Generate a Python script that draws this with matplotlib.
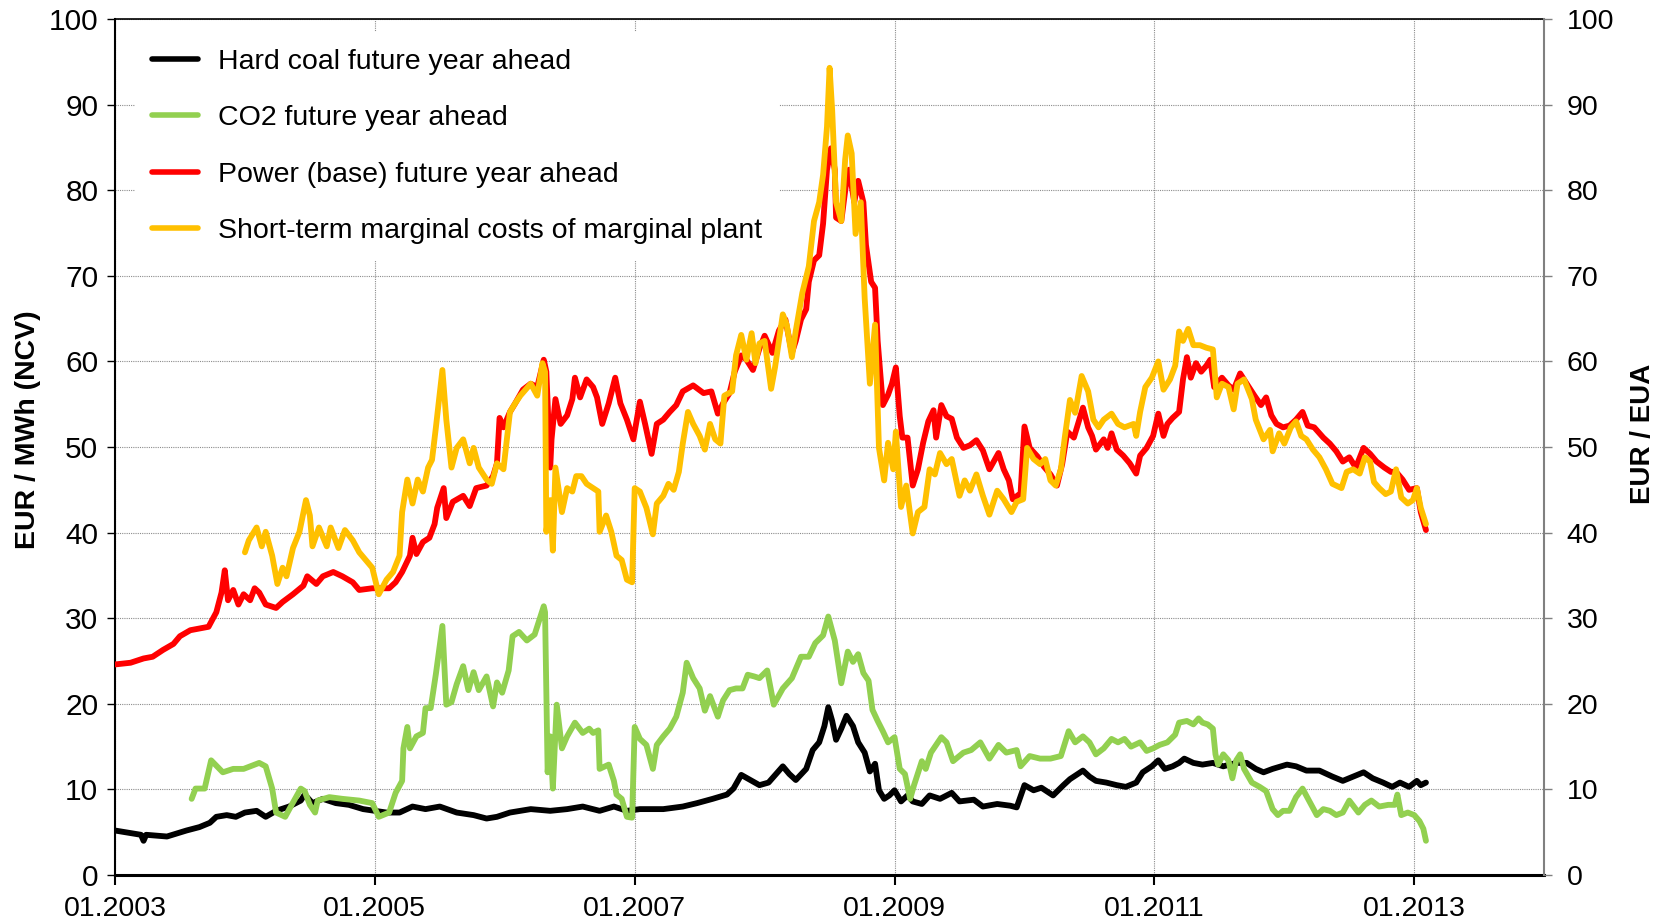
import matplotlib.pyplot as plt
from matplotlib.ticker import MultipleLocator

plt.rcParams['font.family'] = ['Liberation Sans', 'DejaVu Sans']

# time axis in decimal years
coal_t = [2003.00, 2003.12, 2003.20, 2003.22, 2003.24, 2003.40, 2003.55, 2003.65, 2003.73, 2003.78,
          2003.86, 2003.93, 2004.00, 2004.09, 2004.16, 2004.24, 2004.34, 2004.43, 2004.46, 2004.52,
          2004.60, 2004.70, 2004.80, 2004.91, 2005.00, 2005.09, 2005.19, 2005.29, 2005.39, 2005.50,
          2005.63, 2005.76, 2005.86, 2005.94, 2006.04, 2006.20, 2006.35, 2006.48, 2006.60, 2006.73,
          2006.84, 2006.94, 2007.04, 2007.22, 2007.37, 2007.48, 2007.60, 2007.71, 2007.76, 2007.82,
          2007.89, 2007.96, 2008.03, 2008.14, 2008.19, 2008.24, 2008.32, 2008.37, 2008.42, 2008.46,
          2008.49, 2008.52, 2008.55, 2008.59, 2008.63, 2008.68, 2008.72, 2008.77, 2008.81, 2008.85,
          2008.88, 2008.92, 2008.96, 2009.00, 2009.05, 2009.10, 2009.14, 2009.21, 2009.27, 2009.35,
          2009.44, 2009.50, 2009.61, 2009.68, 2009.79, 2009.89, 2009.94, 2010.00, 2010.07, 2010.13,
          2010.22, 2010.30, 2010.35, 2010.45, 2010.50, 2010.55, 2010.63, 2010.71, 2010.78, 2010.86,
          2010.91, 2010.98, 2011.03, 2011.08, 2011.14, 2011.19, 2011.23, 2011.30, 2011.37, 2011.45,
          2011.53, 2011.63, 2011.71, 2011.78, 2011.84, 2011.91, 2012.02, 2012.09, 2012.17, 2012.27,
          2012.37, 2012.45, 2012.53, 2012.61, 2012.68, 2012.76, 2012.83, 2012.89, 2012.96, 2013.02,
          2013.05, 2013.09]
coal_v = [5.2, 4.9, 4.7, 4.0, 4.7, 4.5, 5.2, 5.6, 6.1, 6.8,
          7.0, 6.8, 7.3, 7.5, 6.8, 7.5, 8.0, 8.7, 9.4, 8.4,
          8.9, 8.4, 8.2, 7.7, 7.5, 7.3, 7.3, 8.0, 7.7, 8.0,
          7.3, 7.0, 6.6, 6.8, 7.3, 7.7, 7.5, 7.7, 8.0, 7.5,
          8.0, 7.5, 7.7, 7.7, 8.0, 8.4, 8.9, 9.4, 10.1, 11.7,
          11.1, 10.5, 10.8, 12.7, 11.8, 11.1, 12.4, 14.6, 15.5, 17.4,
          19.6, 18.0, 15.8, 17.1, 18.6, 17.4, 15.5, 14.3, 12.1, 13.0,
          9.9, 8.9, 9.3, 9.9, 8.6, 9.3, 8.6, 8.3, 9.3, 8.9,
          9.6, 8.6, 8.8, 8.0, 8.3, 8.1, 7.9, 10.5, 9.9, 10.2,
          9.3, 10.5, 11.2, 12.2, 11.5, 11.0, 10.8, 10.5, 10.3, 10.8,
          12.0, 12.7, 13.4, 12.4, 12.7, 13.1, 13.6, 13.1, 12.9, 13.1,
          12.7, 13.1, 13.1, 12.4, 12.0, 12.4, 12.9, 12.7, 12.2, 12.2,
          11.5, 11.0, 11.5, 12.0, 11.3, 10.8, 10.3, 10.8, 10.3, 11.0,
          10.5, 10.8]

co2_t = [2003.59, 2003.62, 2003.69, 2003.74, 2003.83, 2003.91, 2003.99, 2004.11, 2004.16, 2004.21,
         2004.24, 2004.31, 2004.36, 2004.43, 2004.46, 2004.50, 2004.54, 2004.56, 2004.65, 2004.75,
         2004.88, 2004.98, 2005.03, 2005.11, 2005.16, 2005.21, 2005.22, 2005.25, 2005.27, 2005.32,
         2005.37, 2005.39, 2005.43, 2005.47, 2005.52, 2005.55, 2005.59, 2005.63, 2005.68, 2005.72,
         2005.76, 2005.80, 2005.86, 2005.91, 2005.94, 2005.98, 2006.03, 2006.06, 2006.11, 2006.17,
         2006.23, 2006.27, 2006.30, 2006.31, 2006.33, 2006.35, 2006.37, 2006.40, 2006.44, 2006.48,
         2006.54, 2006.60, 2006.65, 2006.68, 2006.72, 2006.73, 2006.80, 2006.84, 2006.86, 2006.90,
         2006.94, 2006.98, 2007.00, 2007.04, 2007.09, 2007.14, 2007.17, 2007.22, 2007.27, 2007.32,
         2007.37, 2007.40, 2007.45, 2007.50, 2007.54, 2007.58, 2007.64, 2007.68, 2007.73, 2007.78,
         2007.83, 2007.87, 2007.92, 2007.96, 2008.02, 2008.07, 2008.14, 2008.21, 2008.28, 2008.34,
         2008.39, 2008.45, 2008.49, 2008.54, 2008.59, 2008.64, 2008.68, 2008.72, 2008.76, 2008.80,
         2008.83, 2008.87, 2008.91, 2008.95, 2009.00, 2009.04, 2009.08, 2009.12, 2009.15, 2009.21,
         2009.24, 2009.28, 2009.36, 2009.40, 2009.45, 2009.53, 2009.59, 2009.66, 2009.73, 2009.80,
         2009.86, 2009.94, 2009.97, 2010.04, 2010.12, 2010.20, 2010.28, 2010.34, 2010.39, 2010.45,
         2010.50, 2010.55, 2010.61, 2010.67, 2010.72, 2010.77, 2010.82, 2010.89, 2010.94, 2010.99,
         2011.04, 2011.10, 2011.16, 2011.19, 2011.25, 2011.30, 2011.34, 2011.37, 2011.41, 2011.45,
         2011.47, 2011.49, 2011.53, 2011.57, 2011.60, 2011.63, 2011.66, 2011.69, 2011.75, 2011.81,
         2011.86, 2011.91, 2011.95, 2011.99, 2012.04, 2012.09, 2012.14, 2012.19, 2012.25, 2012.30,
         2012.35, 2012.40, 2012.45, 2012.50, 2012.57, 2012.62, 2012.67, 2012.73, 2012.80, 2012.85,
         2012.87, 2012.90, 2012.95, 2013.00, 2013.04, 2013.07, 2013.09]
co2_v = [8.9, 10.1, 10.1, 13.4, 12.0, 12.4, 12.4, 13.1, 12.7, 10.1,
         7.3, 6.8, 8.2, 10.1, 9.8, 8.2, 7.3, 8.7, 9.1, 8.9,
         8.7, 8.4, 6.8, 7.3, 9.6, 11.0, 14.8, 17.3, 14.8, 16.2,
         16.6, 19.5, 19.5, 23.5, 29.1, 19.9, 20.2, 22.3, 24.4, 21.6,
         23.7, 21.6, 23.2, 19.7, 22.5, 21.3, 23.9, 27.9, 28.4, 27.4,
         28.1, 30.0, 31.4, 30.7, 12.0, 16.2, 10.1, 19.9, 14.8, 16.2,
         17.8, 16.6, 17.1, 16.6, 16.9, 12.4, 12.9, 11.0, 9.4, 8.9,
         6.8, 6.7, 17.3, 15.9, 15.2, 12.4, 15.2, 16.2, 17.1, 18.5,
         21.3, 24.8, 23.0, 21.8, 19.2, 20.9, 18.5, 20.4, 21.6, 21.8,
         21.8, 23.4, 23.2, 23.0, 23.9, 19.9, 21.8, 23.0, 25.5, 25.5,
         27.1, 28.0, 30.2, 27.4, 22.4, 26.1, 24.9, 25.8, 23.6, 22.7,
         19.3, 18.0, 16.8, 15.5, 16.1, 12.4, 11.8, 8.9, 10.5, 13.3,
         12.4, 14.3, 16.1, 15.5, 13.3, 14.3, 14.6, 15.5, 13.6, 15.2,
         14.3, 14.6, 12.7, 13.9, 13.6, 13.6, 13.9, 16.8, 15.5, 16.2,
         15.5, 14.1, 14.8, 15.9, 15.5, 15.9, 15.0, 15.5, 14.5, 14.8,
         15.2, 15.5, 16.4, 17.8, 18.0, 17.6, 18.3, 17.8, 17.6, 17.1,
         14.1, 12.9, 14.1, 13.4, 11.3, 13.4, 14.1, 12.4, 10.8, 10.3,
         9.8, 7.7, 7.0, 7.5, 7.5, 9.1, 10.1, 8.7, 7.0, 7.7,
         7.5, 7.0, 7.3, 8.7, 7.3, 8.2, 8.7, 8.0, 8.2, 8.2,
         9.4, 7.0, 7.3, 7.0, 6.3, 5.4, 4.0]

power_t = [2003.00, 2003.12, 2003.22, 2003.29, 2003.37, 2003.45, 2003.50, 2003.58, 2003.65, 2003.72,
           2003.78, 2003.82, 2003.845, 2003.87, 2003.91, 2003.95, 2003.99, 2004.04, 2004.075, 2004.11,
           2004.16, 2004.24, 2004.29, 2004.37, 2004.45, 2004.48, 2004.55, 2004.60, 2004.68, 2004.75,
           2004.83, 2004.88, 2004.98, 2005.06, 2005.11, 2005.16, 2005.21, 2005.27, 2005.29, 2005.32,
           2005.37, 2005.42, 2005.46, 2005.48, 2005.53, 2005.55, 2005.60, 2005.68, 2005.73, 2005.78,
           2005.86, 2005.91, 2005.94, 2005.96, 2005.99, 2006.04, 2006.08, 2006.14, 2006.20, 2006.25,
           2006.30, 2006.32, 2006.35, 2006.36, 2006.39, 2006.43, 2006.48, 2006.52, 2006.54, 2006.58,
           2006.63, 2006.68, 2006.71, 2006.75, 2006.80, 2006.85, 2006.89, 2006.94, 2006.99, 2007.04,
           2007.08, 2007.13, 2007.17, 2007.22, 2007.27, 2007.32, 2007.37, 2007.45, 2007.53, 2007.59,
           2007.64, 2007.68, 2007.73, 2007.77, 2007.82, 2007.86, 2007.91, 2007.96, 2008.00, 2008.06,
           2008.11, 2008.16, 2008.21, 2008.24, 2008.28, 2008.32, 2008.34, 2008.38, 2008.42, 2008.45,
           2008.48, 2008.51, 2008.54, 2008.55, 2008.59, 2008.63, 2008.65, 2008.69, 2008.72, 2008.76,
           2008.78, 2008.82, 2008.85, 2008.87, 2008.91, 2008.95, 2008.98, 2009.01, 2009.04, 2009.06,
           2009.10, 2009.14, 2009.18, 2009.22, 2009.26, 2009.30, 2009.32, 2009.36, 2009.40, 2009.44,
           2009.48, 2009.53, 2009.58, 2009.63, 2009.68, 2009.73, 2009.80, 2009.84, 2009.88, 2009.91,
           2009.97, 2010.00, 2010.04, 2010.10, 2010.15, 2010.20, 2010.25, 2010.29, 2010.33, 2010.38,
           2010.45, 2010.49, 2010.52, 2010.55, 2010.61, 2010.64, 2010.67, 2010.71, 2010.76, 2010.81,
           2010.86, 2010.89, 2010.94, 2010.99, 2011.03, 2011.07, 2011.10, 2011.14, 2011.19, 2011.22,
           2011.25, 2011.28, 2011.32, 2011.36, 2011.40, 2011.43, 2011.46, 2011.52, 2011.57, 2011.61,
           2011.66, 2011.71, 2011.77, 2011.82, 2011.86, 2011.90, 2011.94, 2011.99, 2012.04, 2012.09,
           2012.14, 2012.18, 2012.23, 2012.30, 2012.35, 2012.40, 2012.45, 2012.50, 2012.55, 2012.61,
           2012.66, 2012.71, 2012.77, 2012.82, 2012.86, 2012.91, 2012.96, 2013.02, 2013.05, 2013.09]
power_v = [24.6, 24.8, 25.3, 25.5, 26.3, 27.0, 27.9, 28.6, 28.8, 29.0,
           30.7, 33.0, 35.6, 32.1, 33.3, 31.6, 32.8, 32.1, 33.5, 33.0,
           31.6, 31.2, 31.9, 32.8, 33.8, 34.9, 34.0, 34.9, 35.4, 34.9,
           34.2, 33.3, 33.5, 33.5, 33.5, 34.2, 35.4, 37.3, 39.4, 37.5,
           38.9, 39.4, 41.0, 42.9, 45.2, 41.7, 43.6, 44.3, 43.1, 45.2,
           45.5, 46.6, 48.1, 53.4, 52.3, 54.1, 55.1, 56.7, 57.4, 57.0,
           60.2, 58.8, 47.6, 50.9, 55.6, 52.7, 53.7, 55.6, 58.1, 55.8,
           57.9, 57.0, 55.8, 52.7, 55.1, 58.1, 55.1, 53.2, 50.9, 55.3,
           52.7, 49.2, 52.7, 53.2, 54.1, 54.9, 56.5, 57.2, 56.3, 56.5,
           53.9, 55.1, 56.3, 58.8, 60.7, 60.2, 59.0, 61.5, 63.0, 61.0,
           63.6, 64.9, 61.0, 62.4, 64.9, 66.1, 69.3, 71.8, 72.4, 76.1,
           82.4, 84.9, 82.4, 76.8, 76.4, 81.1, 82.4, 78.6, 81.1, 78.6,
           73.6, 69.3, 68.6, 62.4, 54.9, 56.1, 57.4, 59.3, 53.6, 51.1,
           51.1, 45.5, 47.4, 50.5, 53.0, 54.3, 51.1, 54.9, 53.6, 53.3,
           51.1, 49.9, 50.2, 50.8, 49.6, 47.4, 49.3, 47.4, 46.1, 43.9,
           44.6, 52.4, 49.9, 48.9, 47.7, 46.8, 45.5, 48.0, 51.8, 51.1,
           54.6, 52.3, 51.3, 49.7, 50.9, 49.9, 51.6, 49.7, 49.0, 48.1,
           46.9, 49.0, 49.9, 51.3, 53.9, 51.3, 52.7, 53.4, 54.1, 57.9,
           60.5, 58.1, 59.8, 58.8, 59.5, 60.2, 57.0, 58.1, 57.2, 56.7,
           58.6, 57.4, 56.0, 54.9, 55.8, 53.7, 52.7, 52.3, 52.5, 53.2,
           54.1, 52.5, 52.3, 51.1, 50.4, 49.5, 48.3, 48.8, 47.6, 49.9,
           49.2, 48.3, 47.6, 47.1, 47.1, 46.2, 45.0, 45.2, 42.4, 40.3]

smc_t = [2004.00, 2004.03, 2004.09, 2004.13, 2004.16, 2004.21, 2004.25, 2004.29, 2004.32, 2004.37,
         2004.42, 2004.47, 2004.50, 2004.52, 2004.57, 2004.63, 2004.66, 2004.72, 2004.77, 2004.83,
         2004.88, 2004.93, 2004.98, 2005.03, 2005.09, 2005.14, 2005.19, 2005.21, 2005.25, 2005.29,
         2005.33, 2005.37, 2005.41, 2005.44, 2005.47, 2005.52, 2005.55, 2005.59, 2005.63, 2005.68,
         2005.73, 2005.76, 2005.80, 2005.86, 2005.90, 2005.94, 2005.99, 2006.04, 2006.08, 2006.12,
         2006.20, 2006.25, 2006.29, 2006.31, 2006.32, 2006.35, 2006.37, 2006.39, 2006.44, 2006.48,
         2006.52, 2006.55, 2006.59, 2006.63, 2006.68, 2006.72, 2006.73, 2006.78, 2006.82, 2006.86,
         2006.90, 2006.94, 2006.98, 2007.00, 2007.04, 2007.09, 2007.14, 2007.17, 2007.22, 2007.26,
         2007.30, 2007.34, 2007.37, 2007.41, 2007.45, 2007.50, 2007.54, 2007.58, 2007.62, 2007.66,
         2007.69, 2007.75, 2007.78, 2007.82, 2007.86, 2007.90, 2007.93, 2007.96, 2008.00, 2008.05,
         2008.08, 2008.14, 2008.17, 2008.21, 2008.24, 2008.29, 2008.34, 2008.38, 2008.42, 2008.45,
         2008.48, 2008.50, 2008.52, 2008.55, 2008.59, 2008.62, 2008.64, 2008.67, 2008.70, 2008.74,
         2008.77, 2008.81, 2008.85, 2008.88, 2008.92, 2008.95, 2008.99, 2009.01, 2009.05, 2009.09,
         2009.14, 2009.18, 2009.23, 2009.27, 2009.31, 2009.35, 2009.40, 2009.44, 2009.50, 2009.54,
         2009.58, 2009.63, 2009.68, 2009.73, 2009.79, 2009.84, 2009.90, 2009.94, 2009.99, 2010.02,
         2010.07, 2010.12, 2010.16, 2010.20, 2010.24, 2010.28, 2010.31, 2010.35, 2010.39, 2010.44,
         2010.49, 2010.53, 2010.57, 2010.61, 2010.67, 2010.72, 2010.77, 2010.84, 2010.86, 2010.89,
         2010.93, 2010.98, 2011.03, 2011.07, 2011.12, 2011.16, 2011.19, 2011.22, 2011.26, 2011.30,
         2011.35, 2011.40, 2011.45, 2011.48, 2011.52, 2011.57, 2011.61, 2011.64, 2011.69, 2011.75,
         2011.78, 2011.84, 2011.89, 2011.91, 2011.96, 2012.00, 2012.05, 2012.09, 2012.13, 2012.17,
         2012.22, 2012.27, 2012.32, 2012.37, 2012.44, 2012.48, 2012.53, 2012.58, 2012.62, 2012.66,
         2012.69, 2012.73, 2012.78, 2012.82, 2012.86, 2012.90, 2012.95, 2012.99, 2013.02, 2013.05,
         2013.09]
smc_v = [37.7, 39.1, 40.6, 38.4, 40.1, 37.3, 34.0, 35.9, 34.9, 38.2,
         40.1, 43.8, 42.0, 38.4, 40.6, 38.4, 40.6, 38.2, 40.3, 39.1,
         37.7, 36.8, 35.9, 32.8, 34.5, 35.4, 37.3, 42.4, 46.2, 43.4,
         46.2, 44.8, 47.6, 48.5, 52.3, 59.0, 53.2, 47.6, 49.9, 50.9,
         48.1, 49.9, 47.6, 46.2, 45.7, 48.1, 47.4, 54.1, 55.1, 56.0,
         57.4, 56.0, 59.8, 58.8, 40.1, 43.8, 37.9, 47.6, 42.4, 45.2,
         44.8, 46.6, 46.6, 45.7, 45.2, 44.8, 40.1, 42.0, 40.1, 37.3,
         36.8, 34.5, 34.2, 45.2, 44.8, 42.9, 39.8, 43.4, 44.3, 45.7,
         45.0, 47.1, 50.4, 54.1, 52.7, 51.3, 49.7, 52.7, 50.9, 50.4,
         56.0, 56.5, 60.7, 63.1, 60.2, 63.3, 59.8, 62.1, 62.4, 56.8,
         59.3, 65.5, 64.3, 60.5, 63.6, 68.0, 71.1, 76.4, 78.6, 81.8,
         87.4, 94.3, 89.3, 78.6, 76.4, 83.6, 86.4, 84.3, 74.9, 78.6,
         67.4, 57.4, 64.3, 49.9, 46.1, 50.5, 47.4, 51.8, 43.0, 45.5,
         39.9, 42.4, 43.0, 47.4, 46.8, 49.3, 48.0, 48.6, 44.3, 46.1,
         44.9, 46.8, 44.3, 42.1, 44.9, 43.9, 42.4, 43.6, 43.9, 49.9,
         48.6, 48.0, 48.6, 46.1, 45.5, 47.4, 51.1, 55.5, 54.0, 58.3,
         56.5, 53.2, 52.3, 53.2, 53.9, 52.7, 52.3, 52.7, 51.3, 54.1,
         57.0, 58.1, 60.0, 56.7, 57.9, 59.5, 63.5, 62.4, 63.8, 61.9,
         61.9, 61.6, 61.4, 55.8, 57.4, 57.0, 54.4, 57.4, 57.9, 55.6,
         53.2, 50.9, 52.0, 49.5, 51.6, 50.4, 52.3, 53.0, 51.3, 50.9,
         49.7, 48.8, 47.4, 45.7, 45.2, 47.1, 47.4, 46.9, 48.8, 48.3,
         45.9, 45.2, 44.5, 44.8, 47.4, 44.1, 43.4, 43.8, 45.2, 42.9,
         41.0]

tick_years = [2003, 2005, 2007, 2009, 2011, 2013]
tick_labels = ['01.2003', '01.2005', '01.2007', '01.2009', '01.2011', '01.2013']

fig = plt.figure(figsize=(16.64, 9.24), dpi=100)
ax = fig.add_axes([0.0691, 0.053, 0.8589, 0.9264])

lw = 4.2
ax.plot(coal_t, coal_v, color='black', lw=lw, solid_joinstyle='round', solid_capstyle='round',
        label='Hard coal future year ahead', zorder=3)
ax.plot(co2_t, co2_v, color='#92D050', lw=lw, solid_joinstyle='round', solid_capstyle='round',
        label='CO2 future year ahead', zorder=3)
ax.plot(power_t, power_v, color='#FF0000', lw=lw, solid_joinstyle='round', solid_capstyle='round',
        label='Power (base) future year ahead', zorder=3)
ax.plot(smc_t, smc_v, color='#FFC000', lw=lw, solid_joinstyle='round', solid_capstyle='round',
        label='Short-term marginal costs of marginal plant', zorder=3)

ax.set_xlim(2003, 2014)
ax.set_ylim(0, 100)
ax.set_xticks(tick_years)
ax.set_xticklabels(tick_labels)
ax.yaxis.set_major_locator(MultipleLocator(10))
ax.grid(True, color='#8c8c8c', linestyle=(0, (1, 1)), linewidth=0.8)
ax.set_axisbelow(True)

ax.tick_params(axis='y', direction='out', length=6, width=1, labelsize=21.5, pad=6)
ax.tick_params(axis='x', direction='out', length=7, width=1.5, labelsize=20.5, pad=8)
for s in ['left', 'bottom']:
    ax.spines[s].set_color('black')
ax.spines['left'].set_linewidth(1.5)
ax.spines['bottom'].set_linewidth(2.2)
ax.spines['top'].set_linewidth(1.2)
ax.spines['right'].set_visible(False)

ax.set_ylabel('EUR / MWh (NCV)', fontsize=20.5, fontweight='bold')
ax.yaxis.set_label_coords(-0.052, 0.52)

ax2 = ax.twinx()
ax2.set_ylim(0, 100)
ax2.yaxis.set_major_locator(MultipleLocator(10))
ax2.tick_params(axis='y', direction='out', length=6, width=1, colors='#808080',
                labelcolor='black', labelsize=20.5, pad=10)
for s in ['left', 'bottom', 'top']:
    ax2.spines[s].set_visible(False)
ax2.spines['right'].set_color('#808080')
ax2.spines['right'].set_linewidth(1.5)
ax2.set_ylabel('EUR / EUA', fontsize=20, fontweight='bold')
ax2.yaxis.set_label_coords(1.060, 0.515)

leg = ax.legend(loc='upper left', bbox_to_anchor=(0.014, 0.985), fontsize=20.5, frameon=True,
                fancybox=False, edgecolor='none', facecolor='white', framealpha=1,
                handlelength=1.6, handletextpad=0.7, labelspacing=1.07,
                borderaxespad=0.0, borderpad=0.6)
for h in leg.get_lines():
    h.set_linewidth(4.0)

fig.savefig('out.png', dpi=100)
